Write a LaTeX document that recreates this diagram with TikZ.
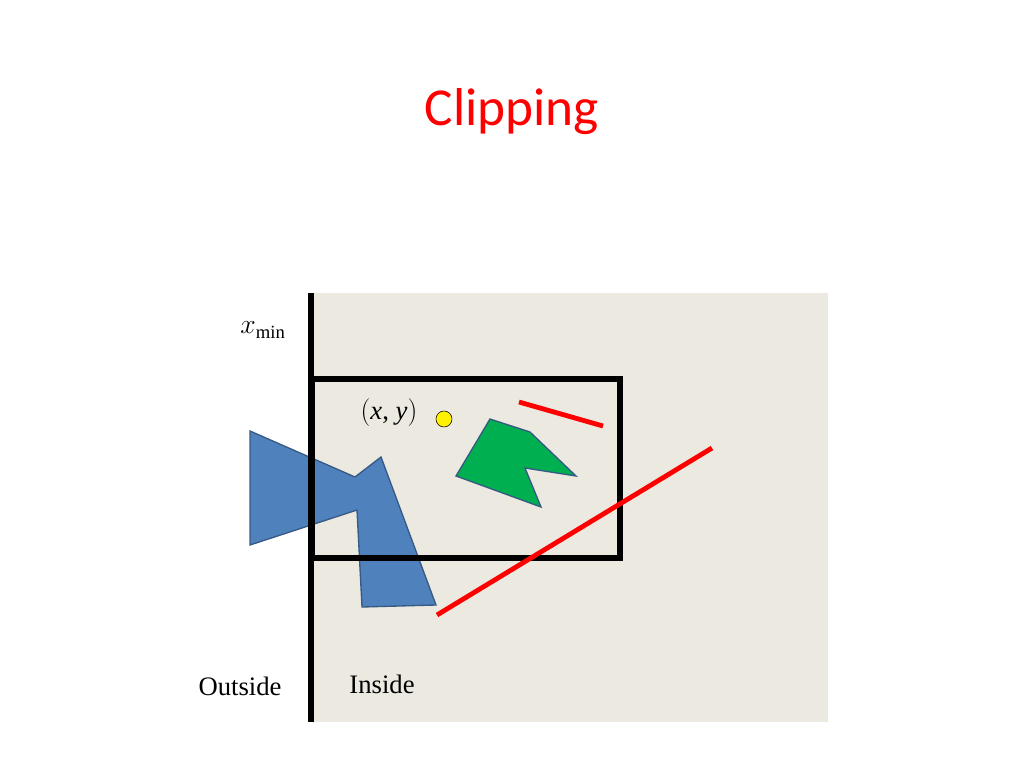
\documentclass[tikz,border=0pt]{standalone}
\usepackage{fontspec}
\setmainfont{Liberation Serif}
\newfontfamily\titlefont{Carlito}
\definecolor{beige}{HTML}{ECE9E0}
\definecolor{polyblue}{HTML}{4F81BD}
\definecolor{polygreen}{HTML}{00B050}
\begin{document}
\begin{tikzpicture}[x=0.75pt,y=-0.75pt,
  label text/.style={font=\fontsize{20}{24}\selectfont},
  red seg/.style={red,line width=3.6pt},
  polyshape/.style={draw=polyblue!70!black,line width=1pt}]
  \useasboundingbox (0,0) rectangle (1024,768);
  % window area
  \fill[beige] (312,293) rectangle (828,722);
  \node[font=\titlefont\fontsize{40}{48}\selectfont,text=red] (title) at (512,112) {Clipping};
  % polygons
  \filldraw[polyshape,fill=polyblue] (250,431) -- (355,477) -- (381,457) -- (436,605)
    -- (362,607) -- (357,510) -- (250,545) -- cycle;
  \filldraw[polyshape,fill=polygreen] (490,419) -- (530,432) -- (576,476) -- (525,468)
    -- (541,507) -- (456,476) -- cycle;
  % boundary and window
  \draw[line width=5pt] (311,293) -- (311,722);
  \draw[line width=3.8pt] (312,379) rectangle (620,558);
  % segments
  \coordinate (a1) at (519,402); \coordinate (a2) at (603,426);
  \coordinate (b1) at (437,615); \coordinate (b2) at (712,448);
  \draw[red seg] (a1) -- (a2);
  \draw[red seg] (b1) -- (b2);
  \node[circle,draw,fill=yellow,minimum size=12pt,inner sep=0pt] (pt) at (444,419) {};
  % labels
  \node[label text] (xy) at (389,413) {$($\textit{x}, \textit{y}$)$};
  \node[label text] (xmin) at (263,330) {$x_{\mathrm{min}}$};
  \node[label text] (outside) at (240,686) {Outside};
  \node[label text] (inside) at (382,684) {Inside};
\end{tikzpicture}
\end{document}
